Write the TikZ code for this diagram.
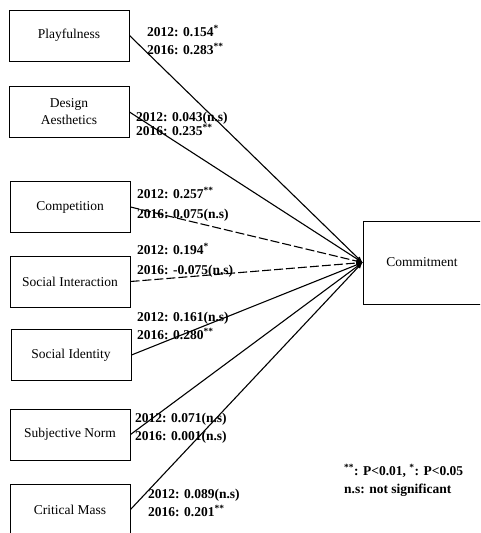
\documentclass[tikz,border=0pt]{standalone}
\usepackage{fontspec}
\setmainfont{Liberation Serif}
\usetikzlibrary{arrows}

\begin{document}
\begin{tikzpicture}[x=1pt,y=-1pt,
  box/.style={draw,line width=1pt,minimum width=120pt,minimum height=51pt,align=center,
              font=\fontsize{13.5}{17}\selectfont},
  link/.style={line width=1.1pt,-latex},
  weak/.style={link,dash pattern=on 9pt off 3pt},
  coef/.style={anchor=west,align=left,inner sep=0pt,font=\bfseries\fontsize{13.5}{18}\selectfont}]
\useasboundingbox (0,0) rectangle (480,533);
\clip (0,0) rectangle (480,533);
\node[box] (play) at (69,35.5) {Playfulness};
\node[box] (design) at (69,112) {Design\\Aesthetics};
\node[box] (compet) at (70,207) {Competition};
\node[box] (social) at (70,281.5) {Social Interaction};
\node[box] (ident) at (71,355) {Social Identity};
\node[box] (norm) at (70,434.5) {Subjective Norm};
\node[box] (mass) at (70,509.5) {Critical Mass};
\node[box,minimum width=118pt,minimum height=83pt] (commit) at (422,262.5) {Commitment};

\draw[link] (play.east) -- (commit.west);
\draw[link] (design.east) -- (commit.west);
\draw[weak] (compet.east) -- (commit.west);
\draw[weak] (social.east) -- (commit.west);
\draw[link] (ident.east) -- (commit.west);
\draw[link] (norm.east) -- (commit.west);
\draw[link] (mass.east) -- (commit.west);

\node[coef] (c1) at (147,40) {2012: 0.154\textsuperscript{*}\\2016: 0.283\textsuperscript{**}};
\node[coef] (c2) at (136,124) {2012: 0.043(n.s)\\[-4pt]2016: 0.235\textsuperscript{**}};
\node[coef] (c3) at (137,204) {2012: 0.257\textsuperscript{**}\\[2pt]2016: 0.075(n.s)};
\node[coef] (c4) at (137,260) {2012: 0.194\textsuperscript{*}\\[2pt]2016: -0.075(n.s)};
\node[coef] (c5) at (137,326) {2012: 0.161(n.s)\\2016: 0.280\textsuperscript{**}};
\node[coef] (c6) at (135,428) {2012: 0.071(n.s)\\2016: 0.001(n.s)};
\node[coef] (c7) at (148,503) {2012: 0.089(n.s)\\2016: 0.201\textsuperscript{**}};
\node[coef] (note) at (344,480) {\textsuperscript{**}: P<0.01, \textsuperscript{*}: P<0.05\\n.s: not significant};
\end{tikzpicture}
\end{document}
